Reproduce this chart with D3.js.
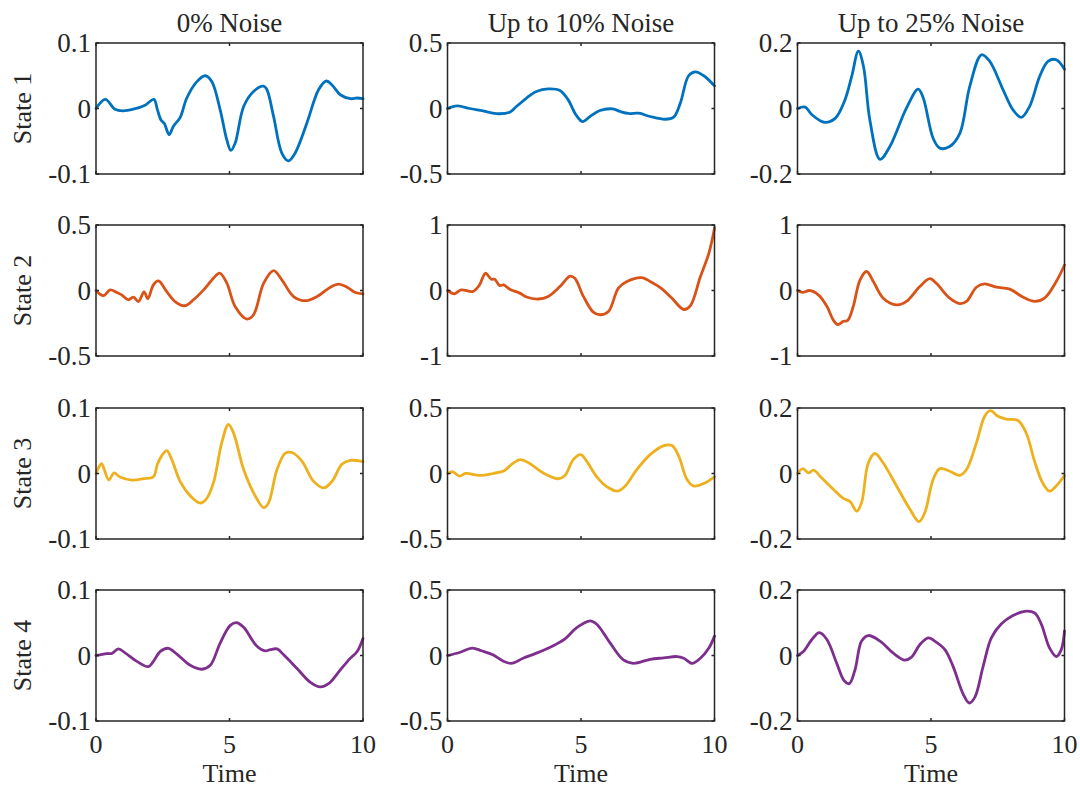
<!DOCTYPE html>
<html>
<head>
<meta charset="utf-8">
<script src="https://cdn.jsdelivr.net/npm/d3@7"></script>
<style>
  body { margin: 0; background: #fff; }
  svg { display: block; }
  text { font-family: "Liberation Serif", "Times New Roman", serif; fill: #262626; }
</style>
</head>
<body>
<svg id="chart" width="1080" height="788"></svg>
<script>
// ----------
var columnTitles = ['0% Noise', 'Up to 10% Noise', 'Up to 25% Noise'];
var rowLabels = ['State 1', 'State 2', 'State 3', 'State 4'];
var rowColors = ['#0072BD', '#D95319', '#EDB120', '#7E2F8E'];
var xTicks = [0, 5, 10];
var xLabel = 'Time';

// symmetric y limit of each panel, rows x columns
var yLimits = [
  [0.1, 0.5, 0.2],
  [0.5, 1, 1],
  [0.1, 0.5, 0.2],
  [0.1, 0.5, 0.2]
];

// ---------- state 1
var state1Noise0 = [[0,0],[0.35,0.014],[0.71,-0.001],[1.0,-0.0035],[1.4,-0.001],[1.84,0.005],[2.17,0.014],[2.3,-0.002],[2.44,-0.018],[2.56,-0.023],[2.74,-0.04],[2.9,-0.027],[3.15,-0.014],[3.4,0.016],[3.78,0.041],[4.09,0.05],[4.34,0.041],[4.65,-0.002],[4.9,-0.048],[5.05,-0.064],[5.21,-0.053],[5.53,0.003],[5.9,0.026],[6.28,0.034],[6.4,0.029],[6.65,-0.012],[6.96,-0.068],[7.21,-0.08],[7.46,-0.068],[7.9,-0.022],[8.34,0.029],[8.63,0.042],[8.84,0.036],[9.15,0.021],[9.53,0.015],[9.78,0.016],[10,0.015]];
var state1Noise10 = [[0,0],[0.36,0.02],[0.83,0],[1.33,-0.018],[1.9,-0.04],[2.33,-0.028],[2.58,0.015],[2.96,0.08],[3.33,0.13],[3.77,0.15],[4.21,0.138],[4.52,0.066],[4.81,-0.048],[5.06,-0.1],[5.34,-0.061],[5.71,-0.015],[6.19,-0.003],[6.47,-0.023],[6.78,-0.038],[7.16,-0.036],[7.59,-0.061],[8.16,-0.082],[8.47,-0.066],[8.72,0.041],[9.03,0.25],[9.28,0.28],[9.6,0.25],[10,0.173]];
var state1Noise25 = [[0,0],[0.29,0.004],[0.54,-0.019],[1.0,-0.042],[1.41,-0.03],[1.78,0.027],[2.03,0.098],[2.28,0.175],[2.47,0.129],[2.71,-0.035],[3.09,-0.155],[3.46,-0.116],[4.08,0.001],[4.52,0.059],[4.71,0.032],[5.08,-0.091],[5.33,-0.121],[5.7,-0.116],[6.08,-0.076],[6.45,0.067],[6.89,0.164],[7.2,0.144],[7.7,0.057],[8.07,-0.004],[8.38,-0.027],[8.69,0.006],[9.07,0.098],[9.38,0.144],[9.69,0.149],[10,0.12]];

// ---------- state 2
var state2Noise0 = [[0,0],[0.28,-0.04],[0.53,0.005],[0.78,-0.015],[0.96,-0.033],[1.21,-0.071],[1.4,-0.05],[1.59,-0.084],[1.8,-0.01],[1.94,-0.063],[2.15,0.043],[2.34,0.073],[2.65,-0.008],[2.96,-0.084],[3.34,-0.116],[3.65,-0.071],[4.03,0.005],[4.4,0.094],[4.63,0.132],[4.9,0.056],[5.21,-0.122],[5.65,-0.218],[5.9,-0.185],[6.28,0.056],[6.65,0.152],[6.96,0.081],[7.4,-0.046],[7.84,-0.078],[8.28,-0.046],[8.78,0.025],[9.09,0.048],[9.4,0.025],[9.71,-0.015],[10,-0.025]];
var state2Noise10 = [[0,0],[0.26,-0.05],[0.51,0.01],[0.95,-0.015],[1.2,0.086],[1.42,0.263],[1.64,0.172],[1.77,0.172],[1.95,0.076],[2.1,0.086],[2.33,0.02],[2.71,-0.04],[2.96,-0.1],[3.4,-0.13],[3.77,-0.09],[4.21,0.06],[4.59,0.22],[4.77,0.187],[5.09,-0.09],[5.46,-0.33],[5.71,-0.37],[6.03,-0.32],[6.4,0.035],[6.72,0.137],[7.28,0.197],[7.59,0.137],[8.03,0.025],[8.4,-0.116],[8.85,-0.29],[9.1,-0.23],[9.47,0.21],[9.79,0.57],[10,0.95]];
var state2Noise25 = [[0,0],[0.2,-0.03],[0.45,0],[0.78,-0.066],[1.1,-0.24],[1.34,-0.45],[1.51,-0.52],[1.72,-0.47],[1.88,-0.456],[2.09,-0.24],[2.34,0.16],[2.59,0.29],[2.84,0.137],[3.21,-0.117],[3.71,-0.22],[4.08,-0.167],[4.58,0.06],[4.96,0.18],[5.2,0.11],[5.7,-0.117],[6.08,-0.2],[6.33,-0.167],[6.7,0.05],[7.01,0.1],[7.45,0.05],[7.95,0.02],[8.44,-0.1],[8.88,-0.167],[9.25,-0.117],[9.69,0.137],[10,0.39]];

// ---------- state 3
var state3Noise0 = [[0,0],[0.11,0.01],[0.21,0.015],[0.31,0.006],[0.48,-0.01],[0.68,0.001],[0.88,-0.005],[1.34,-0.01],[1.78,-0.008],[2.15,-0.005],[2.3,0.014],[2.46,0.027],[2.65,0.035],[2.84,0.021],[3.15,-0.012],[3.53,-0.034],[3.9,-0.045],[4.13,-0.039],[4.4,-0.014],[4.71,0.047],[4.96,0.075],[5.15,0.062],[5.53,0.006],[5.96,-0.034],[6.28,-0.052],[6.46,-0.045],[6.78,0.006],[7.09,0.031],[7.34,0.032],[7.71,0.019],[8.15,-0.012],[8.53,-0.022],[8.84,-0.012],[9.21,0.014],[9.53,0.02],[10,0.018]];
var state3Noise10 = [[0,0],[0.2,0.013],[0.45,-0.02],[0.68,0],[1.2,-0.015],[1.7,0],[2.14,0.023],[2.39,0.068],[2.73,0.106],[3.08,0.076],[3.58,0.005],[4.15,-0.04],[4.4,-0.015],[4.71,0.106],[4.99,0.144],[5.21,0.094],[5.59,-0.025],[6.03,-0.109],[6.37,-0.134],[6.65,-0.096],[7.09,0.03],[7.59,0.144],[8.1,0.213],[8.41,0.213],[8.66,0.132],[8.97,-0.046],[9.22,-0.096],[9.6,-0.076],[10,-0.025]];
var state3Noise25 = [[0,0],[0.2,0.015],[0.41,0.002],[0.6,0.01],[0.91,-0.014],[1.34,-0.048],[1.72,-0.076],[1.97,-0.086],[2.22,-0.115],[2.4,-0.089],[2.65,0.032],[2.9,0.061],[3.21,0.032],[3.71,-0.038],[4.21,-0.109],[4.55,-0.147],[4.77,-0.119],[5.08,-0.018],[5.33,0.015],[5.7,0.007],[6.08,-0.006],[6.33,0.012],[6.7,0.093],[7.01,0.175],[7.22,0.192],[7.51,0.175],[7.82,0.166],[8.26,0.162],[8.57,0.123],[8.88,0.037],[9.19,-0.03],[9.44,-0.054],[9.69,-0.038],[10,-0.006]];

// ---------- state 4
var state4Noise0 = [[0,0],[0.15,0.001],[0.4,0.003],[0.59,0.003],[0.84,0.01],[1.09,0.004],[1.53,-0.009],[1.96,-0.017],[2.15,-0.009],[2.4,0.006],[2.71,0.011],[3.03,0.002],[3.53,-0.015],[3.96,-0.021],[4.28,-0.015],[4.65,0.019],[5.03,0.046],[5.28,0.05],[5.53,0.043],[6.03,0.014],[6.34,0.007],[6.53,0.009],[6.78,0.01],[7.03,0.001],[7.53,-0.02],[8.03,-0.041],[8.4,-0.048],[8.71,-0.043],[9.15,-0.022],[9.53,-0.004],[9.78,0.006],[10,0.026]];
var state4Noise10 = [[0,0],[0.45,0.023],[0.93,0.057],[1.27,0.036],[1.7,0.005],[2.08,-0.042],[2.39,-0.06],[2.83,-0.021],[3.33,0.018],[3.96,0.075],[4.4,0.127],[4.84,0.213],[5.34,0.265],[5.59,0.239],[6.09,0.096],[6.59,-0.034],[6.97,-0.06],[7.59,-0.029],[8.1,-0.018],[8.6,-0.008],[8.85,-0.021],[9.16,-0.06],[9.47,-0.021],[9.79,0.057],[10,0.148]];
var state4Noise25 = [[0,0],[0.22,0.012],[0.54,0.049],[0.82,0.07],[1.1,0.049],[1.47,-0.024],[1.74,-0.076],[1.94,-0.086],[2.15,-0.045],[2.4,0.044],[2.65,0.061],[3.09,0.044],[3.59,0.007],[4.02,-0.014],[4.27,-0.005],[4.58,0.033],[4.9,0.054],[5.14,0.044],[5.52,0.018],[5.83,-0.034],[6.2,-0.117],[6.43,-0.145],[6.64,-0.128],[6.95,-0.034],[7.26,0.054],[7.63,0.096],[8.07,0.122],[8.51,0.135],[8.88,0.13],[9.13,0.096],[9.44,0.023],[9.69,-0.003],[9.88,0.018],[10,0.075]];

var series = [
  [state1Noise0, state1Noise10, state1Noise25],
  [state2Noise0, state2Noise10, state2Noise25],
  [state3Noise0, state3Noise10, state3Noise25],
  [state4Noise0, state4Noise10, state4Noise25]
];

// ---------- layout
var panelLefts = [96, 447.5, 797.5];
var panelTops = [43, 225, 408, 590];
var panelWidth = 267;
var panelHeight = 131;
var axisColor = '#262626';
var fontSize = 27;
var labelSize = 26;
var tickLength = 3;

var svg = d3.select('#chart');

var formatTick = function(v) {
  return v === 0 ? '0' : String(v);
};

// ----------
var drawPanel = function(row, col) {
  var lim = yLimits[row][col];
  var x = d3.scaleLinear().domain([0, 10]).range([0, panelWidth]);
  var y = d3.scaleLinear().domain([-lim, lim]).range([panelHeight, 0]);

  var g = svg.append('g')
    .attr('transform', 'translate(' + panelLefts[col] + ',' + panelTops[row] + ')');

  g.append('defs').append('clipPath')
    .attr('id', 'clip-' + row + '-' + col)
    .append('rect')
    .attr('x', -2)
    .attr('y', -2)
    .attr('width', panelWidth + 4)
    .attr('height', panelHeight + 4);

  // data line
  var line = d3.line()
    .x(function(d) { return x(d[0]); })
    .y(function(d) { return y(d[1]); })
    .curve(d3.curveCatmullRom.alpha(0.5));

  g.append('path')
    .datum(series[row][col])
    .attr('clip-path', 'url(#clip-' + row + '-' + col + ')')
    .attr('d', line)
    .style('fill', 'none')
    .style('stroke', rowColors[row])
    .style('stroke-width', 2.8)
    .style('stroke-linejoin', 'round')
    .style('stroke-linecap', 'round');

  // inward ticks on all four sides
  var yTicks = [-lim, 0, lim];

  g.selectAll('.xtick-bottom')
    .data(xTicks)
    .enter().append('line')
    .attr('x1', function(d) { return x(d); })
    .attr('x2', function(d) { return x(d); })
    .attr('y1', panelHeight)
    .attr('y2', panelHeight - tickLength)
    .style('stroke', axisColor)
    .style('stroke-width', 1.5);

  g.selectAll('.xtick-top')
    .data(xTicks)
    .enter().append('line')
    .attr('x1', function(d) { return x(d); })
    .attr('x2', function(d) { return x(d); })
    .attr('y1', 0)
    .attr('y2', tickLength)
    .style('stroke', axisColor)
    .style('stroke-width', 1.5);

  g.selectAll('.ytick-left')
    .data(yTicks)
    .enter().append('line')
    .attr('x1', 0)
    .attr('x2', tickLength)
    .attr('y1', function(d) { return y(d); })
    .attr('y2', function(d) { return y(d); })
    .style('stroke', axisColor)
    .style('stroke-width', 1.5);

  g.selectAll('.ytick-right')
    .data(yTicks)
    .enter().append('line')
    .attr('x1', panelWidth)
    .attr('x2', panelWidth - tickLength)
    .attr('y1', function(d) { return y(d); })
    .attr('y2', function(d) { return y(d); })
    .style('stroke', axisColor)
    .style('stroke-width', 1.5);

  // box
  g.append('rect')
    .attr('width', panelWidth)
    .attr('height', panelHeight)
    .style('fill', 'none')
    .style('stroke', axisColor)
    .style('stroke-width', 1.5);

  // y tick labels
  g.selectAll('.ylabel')
    .data(yTicks)
    .enter().append('text')
    .attr('x', -5)
    .attr('y', function(d) { return y(d); })
    .attr('dy', '0.35em')
    .style('text-anchor', 'end')
    .style('font-size', fontSize + 'px')
    .text(formatTick);

  // x tick labels and axis title on the bottom row only
  if (row === rowLabels.length - 1) {
    g.selectAll('.xlabel')
      .data(xTicks)
      .enter().append('text')
      .attr('x', function(d) { return x(d); })
      .attr('y', panelHeight + 32)
      .style('text-anchor', 'middle')
      .style('font-size', labelSize + 'px')
      .text(function(d) { return String(d); });

    g.append('text')
      .attr('x', panelWidth / 2)
      .attr('y', panelHeight + 61)
      .style('text-anchor', 'middle')
      .style('font-size', labelSize + 'px')
      .text(xLabel);
  }

  if (row === 0) {
    g.append('text')
      .attr('x', panelWidth / 2)
      .attr('y', -11)
      .style('text-anchor', 'middle')
      .style('font-size', fontSize + 'px')
      .text(columnTitles[col]);
  }

  if (col === 0) {
    g.append('text')
      .attr('transform', 'translate(' + (-65) + ',' + (panelHeight / 2) + ') rotate(-90)')
      .style('text-anchor', 'middle')
      .style('font-size', labelSize + 'px')
      .text(rowLabels[row]);
  }
};

// ----------
rowLabels.forEach(function(label, row) {
  columnTitles.forEach(function(title, col) {
    drawPanel(row, col);
  });
});
</script>
</body>
</html>
